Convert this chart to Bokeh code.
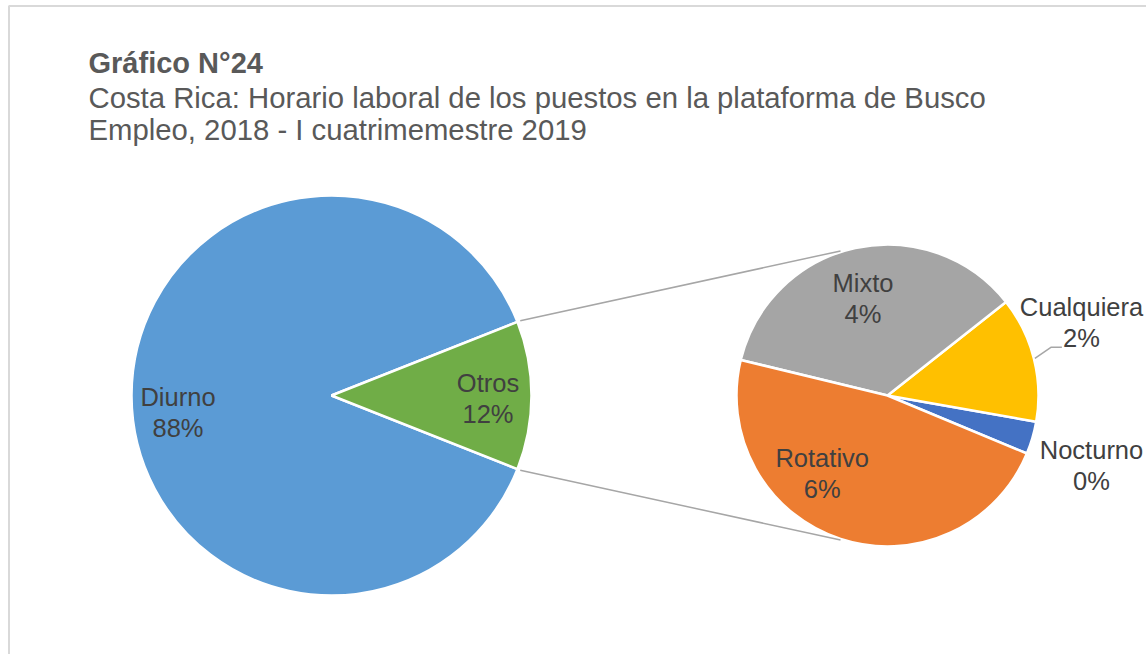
import math
from bokeh.plotting import figure
from bokeh.models import Range1d, ColumnDataSource
from bokeh.core.properties import value
from bokeh.embed import file_html
from bokeh.resources import INLINE

# ---------------- data ----------------
main_categories = ["Diurno", "Otros"]
main_values = [88.0, 12.0]
sub_categories = ["Nocturno", "Cualquiera", "Mixto", "Rotativo"]
sub_values = [0.42, 1.61, 4.27, 5.70]
title_text = "Gráfico N°24"
subtitle_lines = ["Costa Rica: Horario laboral de los puestos en la plataforma de Busco",
                  "Empleo, 2018 - I cuatrimemestre 2019"]

# ---------------- styles / layout ----------------
W, H = 1146, 654
main_colors = {"Diurno": "#5B9BD5", "Otros": "#70AD47"}
sub_colors = {"Nocturno": "#4472C4", "Cualquiera": "#FFC000", "Mixto": "#A5A5A5", "Rotativo": "#ED7D31"}
FONT = "Liberation Sans"
LABEL_COLOR = "#404040"
TITLE_COLOR = "#595959"
TXT_SHIFT = 9.5  # baseline correction for bokeh text rendering

def Y(sy):  # screen y -> data y
    return H - sy

def TY(b):  # text baseline (screen) -> data y
    return H - (b - TXT_SHIFT)

main_c = (331, Y(395)); main_r = 200
sub_c = (887, Y(395)); sub_r = 151
sub_start = math.radians(-22.6)

# label anchors: (center x, first baseline on screen)
label_pos = {
    "Diurno": (177.5, 405.7), "Otros": (487.5, 392.0),
    "Mixto": (862.5, 291.7), "Cualquiera": (1081, 316.0),
    "Rotativo": (821.7, 467.3), "Nocturno": (1091, 459.3),
}
LINE_GAP = 31

p = figure(width=W, height=H, output_backend="svg", toolbar_location=None,
           x_range=Range1d(0, W), y_range=Range1d(0, H),
           min_border=0, outline_line_color=None)
p.axis.visible = False
p.grid.visible = False
p.background_fill_color = "white"

# chart border (top & left visible)
p.line([8.5, 8.5, W], [0, Y(5.5), Y(5.5)], line_color="#D9D9D9", line_width=2)

# ---- main pie ----
total = sum(main_values)
otros_span = main_values[1] / total * 2 * math.pi
main_src = ColumnDataSource(dict(
    cat=main_categories,
    start=[otros_span / 2, -otros_span / 2],
    end=[2 * math.pi - otros_span / 2, otros_span / 2],
    color=[main_colors[c] for c in main_categories],
))
p.wedge(x=main_c[0], y=main_c[1], radius=main_r, start_angle="start", end_angle="end",
        fill_color="color", line_color="white", line_width=2.5, source=main_src)

# ---- secondary pie ----
sub_total = sum(sub_values)
starts, ends = [], []
a = sub_start
for v in sub_values:
    starts.append(a)
    a += v / sub_total * 2 * math.pi
    ends.append(a)
sub_src = ColumnDataSource(dict(
    cat=sub_categories, start=starts, end=ends,
    color=[sub_colors[c] for c in sub_categories],
))
p.wedge(x=sub_c[0], y=sub_c[1], radius=sub_r, start_angle="start", end_angle="end",
        fill_color="color", line_color="white", line_width=2.5, source=sub_src)

# ---- connector lines ----
for sgn in (1, -1):
    ang = sgn * otros_span / 2
    x0 = main_c[0] + (main_r + 3) * math.cos(ang)
    y0 = main_c[1] + (main_r + 3) * math.sin(ang)
    ang2 = math.radians(sgn * 108)
    x1 = sub_c[0] + (sub_r + 1) * math.cos(ang2)
    y1 = sub_c[1] + (sub_r + 1) * math.sin(ang2)
    p.line([x0, x1], [y0, y1], line_color="#A6A6A6", line_width=1.5)

# leader line for Cualquiera
ci = sub_categories.index("Cualquiera")
mid = (starts[ci] + ends[ci]) / 2
lx0 = sub_c[0] + (sub_r + 1) * math.cos(mid)
ly0 = sub_c[1] + (sub_r + 1) * math.sin(mid)
p.line([lx0, lx0 + 16, lx0 + 27], [ly0, ly0 + 11, ly0 + 11], line_color="#A6A6A6", line_width=1.5)

# ---- labels ----
all_vals = dict(zip(main_categories, main_values))
all_vals.update(dict(zip(sub_categories, sub_values)))
lx, ly, lt = [], [], []
for cat, v in all_vals.items():
    cx, b = label_pos[cat]
    lx += [cx, cx]
    ly += [TY(b), TY(b + LINE_GAP)]
    lt += [cat, f"{round(v)}%"]
p.text(x=lx, y=ly, text=lt, text_align="center", text_baseline="alphabetic",
       text_font=value(FONT), text_font_size="25.5px", text_color=LABEL_COLOR)

# ---- title ----
p.text(x=[88], y=[TY(72)], text=[title_text], text_align="left", text_baseline="alphabetic",
       text_font=value(FONT), text_font_size="29px", text_font_style="bold", text_color=TITLE_COLOR)
p.text(x=[88, 88], y=[TY(106), TY(138.5)], text=subtitle_lines, text_align="left",
       text_baseline="alphabetic", text_font=value(FONT), text_font_size="29.3px",
       text_color=TITLE_COLOR)

open("out.html", "w").write(file_html(p, INLINE))
